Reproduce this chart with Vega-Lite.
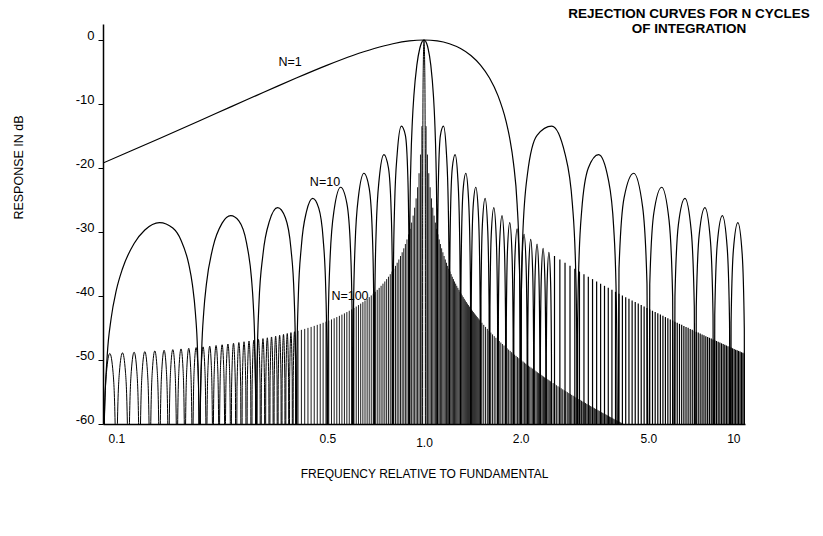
{
"$schema":"https://vega.github.io/schema/vega-lite/v6.json",
"width":642,"height":400,"autosize":"none",
"padding":{"left":103,"top":24,"right":78,"bottom":112},
"background":"white",
"config":{"view":{"stroke":null},"font":"Liberation Sans"},
"title":{"text":["REJECTION CURVES FOR N CYCLES","OF INTEGRATION"],"anchor":"end","frame":"group","align":"center","dx":-56,"dy":30,"baseline":"top","offset":19,"fontSize":13.5,"fontWeight":"bold","font":"Liberation Sans","lineHeight":15,"color":"black"},
"datasets":{
"n1":[{"f":0.1,"d":-19.23},{"f":0.12,"d":-17.51},{"f":0.15,"d":-15.39},{"f":0.2,"d":-12.62},{"f":0.25,"d":-10.45},{"f":0.3,"d":-8.69},{"f":0.35,"d":-7.2},{"f":0.4,"d":-5.94},{"f":0.5,"d":-3.92},{"f":0.6,"d":-2.42},{"f":0.7,"d":-1.33},{"f":0.8,"d":-0.58},{"f":0.9,"d":-0.14},{"f":1,"d":0},{"f":1.1,"d":-0.14},{"f":1.2,"d":-0.58},{"f":1.3,"d":-1.33},{"f":1.4,"d":-2.42},{"f":1.5,"d":-3.92},{"f":1.6,"d":-5.94},{"f":1.7,"d":-8.69},{"f":1.8,"d":-12.62},{"f":1.85,"d":-15.39},{"f":1.9,"d":-19.23},{"f":1.95,"d":-25.61},{"f":1.98,"d":-33.81},{"f":1.99,"d":-39.91},{"f":2,"d":-100},
{"f":2.01,"d":-40.09},{"f":2.03,"d":-30.73},{"f":2.1,"d":-20.97},{"f":2.25,"d":-14.89},{"f":2.5,"d":-13.47},{"f":2.75,"d":-17.81},{"f":2.9,"d":-25.72},{"f":2.97,"d":-36.36},{"f":2.99,"d":-45.98},{"f":3,"d":-100},
{"f":3.01,"d":-46.07},{"f":3.03,"d":-36.62},{"f":3.1,"d":-26.59},{"f":3.25,"d":-20},{"f":3.5,"d":-17.9},{"f":3.75,"d":-21.74},{"f":3.9,"d":-29.39},{"f":3.97,"d":-39.93},{"f":3.99,"d":-49.52},{"f":4,"d":-100},
{"f":4.05,"d":-35.74},{"f":4.2,"d":-24.67},{"f":4.5,"d":-20.82},{"f":4.8,"d":-26.16},{"f":4.95,"d":-37.99},{"f":5,"d":-100},
{"f":5.05,"d":-38.2},{"f":5.2,"d":-27.03},{"f":5.5,"d":-23.01},{"f":5.8,"d":-28.19},{"f":5.95,"d":-39.94},{"f":6,"d":-100},
{"f":6.05,"d":-40.12},{"f":6.2,"d":-28.88},{"f":6.5,"d":-24.75},{"f":6.8,"d":-29.83},{"f":6.95,"d":-41.54},{"f":7,"d":-100},
{"f":7.05,"d":-41.69},{"f":7.2,"d":-30.41},{"f":7.5,"d":-26.2},{"f":7.8,"d":-31.21},{"f":7.95,"d":-42.89},{"f":8,"d":-100},
{"f":8.05,"d":-43.02},{"f":8.2,"d":-31.71},{"f":8.5,"d":-27.44},{"f":8.8,"d":-32.41},{"f":8.95,"d":-44.06},{"f":9,"d":-100},
{"f":9.05,"d":-44.17},{"f":9.2,"d":-32.84},{"f":9.5,"d":-28.53},{"f":9.8,"d":-33.45},{"f":9.95,"d":-45.09},{"f":10,"d":-100}],
"n10":[{"f":0.1,"d":-100},{"f":0.101,"d":-59.08},{"f":0.103,"d":-49.53},{"f":0.106,"d":-43.52},{"f":0.11,"d":-39.13},{"f":0.115,"d":-35.74},{"f":0.125,"d":-31.79},{"f":0.135,"d":-29.68},{"f":0.15,"d":-28.53},{"f":0.165,"d":-29.38},{"f":0.175,"d":-31.28},{"f":0.185,"d":-35.03},{"f":0.19,"d":-38.31},{"f":0.194,"d":-42.62},{"f":0.197,"d":-48.57},{"f":0.199,"d":-58.08},{"f":0.2,"d":-100},
{"f":0.201,"d":-58.05},{"f":0.203,"d":-48.5},{"f":0.206,"d":-42.49},{"f":0.21,"d":-38.1},{"f":0.22,"d":-32.41},{"f":0.235,"d":-28.62},{"f":0.25,"d":-27.44},{"f":0.265,"d":-28.27},{"f":0.28,"d":-31.71},{"f":0.29,"d":-37.17},{"f":0.294,"d":-41.47},{"f":0.297,"d":-47.41},{"f":0.299,"d":-56.92},{"f":0.3,"d":-100},
{"f":0.302,"d":-50.86},{"f":0.306,"d":-41.32},{"f":0.315,"d":-33.52},{"f":0.33,"d":-28.31},{"f":0.35,"d":-26.2},{"f":0.37,"d":-27.77},{"f":0.385,"d":-32.58},{"f":0.394,"d":-40.14},{"f":0.398,"d":-49.58},{"f":0.4,"d":-100},
{"f":0.402,"d":-49.52},{"f":0.406,"d":-39.97},{"f":0.415,"d":-32.15},{"f":0.43,"d":-26.9},{"f":0.45,"d":-24.75},{"f":0.47,"d":-26.27},{"f":0.485,"d":-31.04},{"f":0.494,"d":-38.58},{"f":0.498,"d":-48},{"f":0.5,"d":-100},
{"f":0.503,"d":-44.4},{"f":0.51,"d":-33.95},{"f":0.525,"d":-26.49},{"f":0.55,"d":-23.01},{"f":0.575,"d":-25.52},{"f":0.59,"d":-32.4},{"f":0.597,"d":-42.58},{"f":0.6,"d":-100},
{"f":0.603,"d":-42.45},{"f":0.61,"d":-31.96},{"f":0.625,"d":-24.43},{"f":0.65,"d":-20.82},{"f":0.675,"d":-23.19},{"f":0.69,"d":-29.97},{"f":0.697,"d":-40.1},{"f":0.7,"d":-100},
{"f":0.703,"d":-39.93},{"f":0.71,"d":-29.39},{"f":0.725,"d":-21.74},{"f":0.75,"d":-17.9},{"f":0.775,"d":-20},{"f":0.79,"d":-26.59},{"f":0.797,"d":-36.62},{"f":0.8,"d":-100},
{"f":0.803,"d":-36.36},{"f":0.81,"d":-25.72},{"f":0.825,"d":-17.81},{"f":0.85,"d":-13.47},{"f":0.875,"d":-14.89},{"f":0.89,"d":-20.97},{"f":0.897,"d":-30.73},{"f":0.9,"d":-100},
{"f":0.901,"d":-39.91},{"f":0.905,"d":-25.61},{"f":0.91,"d":-19.23},{"f":0.92,"d":-12.62},{"f":0.93,"d":-8.69},{"f":0.95,"d":-3.92},{"f":0.97,"d":-1.33},{"f":0.98,"d":-0.58},{"f":1,"d":0},{"f":1.02,"d":-0.58},{"f":1.03,"d":-1.33},{"f":1.05,"d":-3.92},{"f":1.07,"d":-8.69},{"f":1.08,"d":-12.62},{"f":1.09,"d":-19.23},{"f":1.095,"d":-25.61},{"f":1.099,"d":-39.91},{"f":1.1,"d":-100},
{"f":1.103,"d":-30.73},{"f":1.11,"d":-20.97},{"f":1.125,"d":-14.89},{"f":1.15,"d":-13.47},{"f":1.175,"d":-17.81},{"f":1.19,"d":-25.72},{"f":1.197,"d":-36.36},{"f":1.2,"d":-100},
{"f":1.203,"d":-36.62},{"f":1.21,"d":-26.59},{"f":1.225,"d":-20},{"f":1.25,"d":-17.9},{"f":1.275,"d":-21.74},{"f":1.29,"d":-29.39},{"f":1.297,"d":-39.93},{"f":1.3,"d":-100},
{"f":1.303,"d":-40.1},{"f":1.31,"d":-29.97},{"f":1.325,"d":-23.19},{"f":1.35,"d":-20.82},{"f":1.375,"d":-24.43},{"f":1.39,"d":-31.96},{"f":1.397,"d":-42.45},{"f":1.4,"d":-100},
{"f":1.403,"d":-42.58},{"f":1.41,"d":-32.4},{"f":1.425,"d":-25.52},{"f":1.45,"d":-23.01},{"f":1.475,"d":-26.49},{"f":1.49,"d":-33.95},{"f":1.497,"d":-44.4},{"f":1.5,"d":-100},
{"f":1.505,"d":-40.15},{"f":1.52,"d":-28.88},{"f":1.55,"d":-24.75},{"f":1.58,"d":-29.83},{"f":1.595,"d":-41.57},{"f":1.6,"d":-100},
{"f":1.605,"d":-41.71},{"f":1.62,"d":-30.41},{"f":1.65,"d":-26.2},{"f":1.68,"d":-31.21},{"f":1.695,"d":-42.91},{"f":1.7,"d":-100},
{"f":1.705,"d":-43.03},{"f":1.72,"d":-31.71},{"f":1.75,"d":-27.44},{"f":1.78,"d":-32.41},{"f":1.795,"d":-44.07},{"f":1.8,"d":-100},
{"f":1.805,"d":-44.18},{"f":1.82,"d":-32.84},{"f":1.85,"d":-28.53},{"f":1.88,"d":-33.45},{"f":1.895,"d":-45.1},{"f":1.9,"d":-100},
{"f":1.905,"d":-45.2},{"f":1.92,"d":-33.84},{"f":1.95,"d":-29.5},{"f":1.98,"d":-34.39},{"f":1.995,"d":-46.02},{"f":2,"d":-100},
{"f":2.005,"d":-46.11},{"f":2.02,"d":-34.74},{"f":2.05,"d":-30.37},{"f":2.08,"d":-35.23},{"f":2.095,"d":-46.85},{"f":2.1,"d":-100},
{"f":2.105,"d":-46.93},{"f":2.12,"d":-35.55},{"f":2.15,"d":-31.16},{"f":2.18,"d":-36},{"f":2.195,"d":-47.61},{"f":2.2,"d":-100},
{"f":2.205,"d":-47.68},{"f":2.22,"d":-36.29},{"f":2.25,"d":-31.88},{"f":2.28,"d":-36.71},{"f":2.295,"d":-48.3},{"f":2.3,"d":-100},
{"f":2.305,"d":-48.37},{"f":2.32,"d":-36.97},{"f":2.35,"d":-32.55},{"f":2.38,"d":-37.36},{"f":2.395,"d":-48.95},{"f":2.4,"d":-100},
{"f":2.405,"d":-49.01},{"f":2.42,"d":-37.61},{"f":2.45,"d":-33.17},{"f":2.48,"d":-37.97},{"f":2.495,"d":-49.55},{"f":2.5,"d":-100}],
"n100l":[{"f":0.1,"d":-100},{"f":0.1008,"d":-61.07},{"f":0.1025,"d":-51.99},{"f":0.105,"d":-48.98},{"f":0.1075,"d":-51.99},{"f":0.1092,"d":-61.07},{"f":0.11,"d":-100},
{"f":0.1108,"d":-60.97},{"f":0.1125,"d":-51.89},{"f":0.115,"d":-48.88},{"f":0.1175,"d":-51.89},{"f":0.1192,"d":-60.97},{"f":0.12,"d":-100},
{"f":0.1208,"d":-60.87},{"f":0.1225,"d":-51.79},{"f":0.125,"d":-48.78},{"f":0.1275,"d":-51.79},{"f":0.1292,"d":-60.87},{"f":0.13,"d":-100},
{"f":0.1308,"d":-60.77},{"f":0.1325,"d":-51.69},{"f":0.135,"d":-48.68},{"f":0.1375,"d":-51.69},{"f":0.1392,"d":-60.77},{"f":0.14,"d":-100},
{"f":0.1408,"d":-60.67},{"f":0.1425,"d":-51.59},{"f":0.145,"d":-48.58},{"f":0.1475,"d":-51.59},{"f":0.1492,"d":-60.67},{"f":0.15,"d":-100},
{"f":0.1508,"d":-60.57},{"f":0.1525,"d":-51.49},{"f":0.155,"d":-48.48},{"f":0.1575,"d":-51.49},{"f":0.1592,"d":-60.57},{"f":0.16,"d":-100},
{"f":0.1608,"d":-60.47},{"f":0.1625,"d":-51.39},{"f":0.165,"d":-48.38},{"f":0.1675,"d":-51.39},{"f":0.1692,"d":-60.47},{"f":0.17,"d":-100},
{"f":0.1708,"d":-60.36},{"f":0.1725,"d":-51.28},{"f":0.175,"d":-48.27},{"f":0.1775,"d":-51.28},{"f":0.1792,"d":-60.36},{"f":0.18,"d":-100},
{"f":0.1808,"d":-60.26},{"f":0.1825,"d":-51.18},{"f":0.185,"d":-48.17},{"f":0.1875,"d":-51.18},{"f":0.1892,"d":-60.26},{"f":0.19,"d":-100},
{"f":0.1908,"d":-60.15},{"f":0.1925,"d":-51.07},{"f":0.195,"d":-48.06},{"f":0.1975,"d":-51.07},{"f":0.1992,"d":-60.15},{"f":0.2,"d":-100},
{"f":0.2008,"d":-60.04},{"f":0.2025,"d":-50.96},{"f":0.205,"d":-47.95},{"f":0.2075,"d":-50.96},{"f":0.2092,"d":-60.04},{"f":0.21,"d":-100},
{"f":0.2108,"d":-59.93},{"f":0.2125,"d":-50.85},{"f":0.215,"d":-47.84},{"f":0.2175,"d":-50.85},{"f":0.2192,"d":-59.93},{"f":0.22,"d":-100},
{"f":0.2208,"d":-59.82},{"f":0.2225,"d":-50.74},{"f":0.225,"d":-47.73},{"f":0.2275,"d":-50.74},{"f":0.2292,"d":-59.82},{"f":0.23,"d":-100},
{"f":0.2308,"d":-59.71},{"f":0.2325,"d":-50.63},{"f":0.235,"d":-47.62},{"f":0.2375,"d":-50.63},{"f":0.2392,"d":-59.71},{"f":0.24,"d":-100},
{"f":0.2408,"d":-59.59},{"f":0.2425,"d":-50.51},{"f":0.245,"d":-47.5},{"f":0.2475,"d":-50.51},{"f":0.2492,"d":-59.59},{"f":0.25,"d":-100},
{"f":0.2515,"d":-54.25},{"f":0.255,"d":-47.39},{"f":0.2585,"d":-54.25},{"f":0.26,"d":-100},
{"f":0.2615,"d":-54.13},{"f":0.265,"d":-47.27},{"f":0.2685,"d":-54.13},{"f":0.27,"d":-100},
{"f":0.2715,"d":-54.01},{"f":0.275,"d":-47.15},{"f":0.2785,"d":-54.01},{"f":0.28,"d":-100},
{"f":0.2815,"d":-53.89},{"f":0.285,"d":-47.03},{"f":0.2885,"d":-53.89},{"f":0.29,"d":-100},
{"f":0.2915,"d":-53.77},{"f":0.295,"d":-46.91},{"f":0.2985,"d":-53.77},{"f":0.3,"d":-100},
{"f":0.3015,"d":-53.64},{"f":0.305,"d":-46.78},{"f":0.3085,"d":-53.64},{"f":0.31,"d":-100},
{"f":0.3115,"d":-53.52},{"f":0.315,"d":-46.66},{"f":0.3185,"d":-53.52},{"f":0.32,"d":-100},
{"f":0.3215,"d":-53.39},{"f":0.325,"d":-46.53},{"f":0.3285,"d":-53.39},{"f":0.33,"d":-100},
{"f":0.3315,"d":-53.26},{"f":0.335,"d":-46.4},{"f":0.3385,"d":-53.26},{"f":0.34,"d":-100},
{"f":0.3415,"d":-53.13},{"f":0.345,"d":-46.27},{"f":0.3485,"d":-53.13},{"f":0.35,"d":-100},
{"f":0.3515,"d":-52.99},{"f":0.355,"d":-46.13},{"f":0.3585,"d":-52.99},{"f":0.36,"d":-100},
{"f":0.3615,"d":-52.86},{"f":0.365,"d":-46},{"f":0.3685,"d":-52.86},{"f":0.37,"d":-100},
{"f":0.3715,"d":-52.72},{"f":0.375,"d":-45.86},{"f":0.3785,"d":-52.72},{"f":0.38,"d":-100},
{"f":0.3815,"d":-52.58},{"f":0.385,"d":-45.72},{"f":0.3885,"d":-52.58},{"f":0.39,"d":-100},
{"f":0.3915,"d":-52.44},{"f":0.395,"d":-45.58},{"f":0.3985,"d":-52.44},{"f":0.4,"d":-100}],
"n100m":[{"f":0.99,"d":-100},{"f":0.9905,"d":-25.61},{"f":0.992,"d":-12.62},{"f":0.995,"d":-3.92},{"f":1,"d":0},{"f":1.005,"d":-3.92},{"f":1.008,"d":-12.62},{"f":1.0095,"d":-25.61},{"f":1.01,"d":-100}],
"r10":[{"f":2.55,"d":-33.75},{"f":2.65,"d":-34.29},{"f":2.75,"d":-34.8},{"f":2.85,"d":-35.29},{"f":2.95,"d":-35.74},{"f":3.05,"d":-36.18},{"f":3.15,"d":-36.59},{"f":3.25,"d":-36.99},{"f":3.35,"d":-37.36},{"f":3.45,"d":-37.73},{"f":3.55,"d":-38.07},{"f":3.65,"d":-38.41},{"f":3.75,"d":-38.73},{"f":3.85,"d":-39.04},{"f":3.95,"d":-39.34},{"f":4.05,"d":-39.63},{"f":4.15,"d":-39.91},{"f":4.25,"d":-40.18},{"f":4.35,"d":-40.44},{"f":4.45,"d":-40.7},{"f":4.55,"d":-40.95},{"f":4.65,"d":-41.19},{"f":4.75,"d":-41.42},{"f":4.85,"d":-41.65},{"f":4.95,"d":-41.87},{"f":5.05,"d":-42.09},{"f":5.15,"d":-42.3},{"f":5.25,"d":-42.51},{"f":5.35,"d":-42.71},{"f":5.45,"d":-42.91},{"f":5.55,"d":-43.1},{"f":5.65,"d":-43.29},{"f":5.75,"d":-43.48},{"f":5.85,"d":-43.66},{"f":5.95,"d":-43.84},{"f":6.05,"d":-44.01},{"f":6.15,"d":-44.18},{"f":6.25,"d":-44.35},{"f":6.35,"d":-44.51},{"f":6.45,"d":-44.67},{"f":6.55,"d":-44.83},{"f":6.65,"d":-44.98},{"f":6.75,"d":-45.14},{"f":6.85,"d":-45.29},{"f":6.95,"d":-45.43},{"f":7.05,"d":-45.58},{"f":7.15,"d":-45.72},{"f":7.25,"d":-45.86},{"f":7.35,"d":-46},{"f":7.45,"d":-46.13},{"f":7.55,"d":-46.27},{"f":7.65,"d":-46.4},{"f":7.75,"d":-46.53},{"f":7.85,"d":-46.66},{"f":7.95,"d":-46.78},{"f":8.05,"d":-46.91},{"f":8.15,"d":-47.03},{"f":8.25,"d":-47.15},{"f":8.35,"d":-47.27},{"f":8.45,"d":-47.39},{"f":8.55,"d":-47.5},{"f":8.65,"d":-47.62},{"f":8.75,"d":-47.73},{"f":8.85,"d":-47.84},{"f":8.95,"d":-47.95},{"f":9.05,"d":-48.06},{"f":9.15,"d":-48.17},{"f":9.25,"d":-48.27},{"f":9.35,"d":-48.38},{"f":9.45,"d":-48.48},{"f":9.55,"d":-48.58},{"f":9.65,"d":-48.68},{"f":9.75,"d":-48.78},{"f":9.85,"d":-48.88},{"f":9.95,"d":-48.98}],
"r100":[{"f":0.405,"d":-45.43},{"f":0.415,"d":-45.29},{"f":0.425,"d":-45.14},{"f":0.435,"d":-44.98},{"f":0.445,"d":-44.83},{"f":0.455,"d":-44.67},{"f":0.465,"d":-44.51},{"f":0.475,"d":-44.35},{"f":0.485,"d":-44.18},{"f":0.495,"d":-44.01},{"f":0.505,"d":-43.84},{"f":0.515,"d":-43.66},{"f":0.525,"d":-43.48},{"f":0.535,"d":-43.29},{"f":0.545,"d":-43.1},{"f":0.555,"d":-42.91},{"f":0.565,"d":-42.71},{"f":0.575,"d":-42.51},{"f":0.585,"d":-42.3},{"f":0.595,"d":-42.09},{"f":0.605,"d":-41.87},{"f":0.615,"d":-41.65},{"f":0.625,"d":-41.42},{"f":0.635,"d":-41.19},{"f":0.645,"d":-40.95},{"f":0.655,"d":-40.7},{"f":0.665,"d":-40.44},{"f":0.675,"d":-40.18},{"f":0.685,"d":-39.91},{"f":0.695,"d":-39.63},{"f":0.705,"d":-39.34},{"f":0.715,"d":-39.04},{"f":0.725,"d":-38.73},{"f":0.735,"d":-38.41},{"f":0.745,"d":-38.07},{"f":0.755,"d":-37.73},{"f":0.765,"d":-37.36},{"f":0.775,"d":-36.99},{"f":0.785,"d":-36.59},{"f":0.795,"d":-36.18},{"f":0.805,"d":-35.74},{"f":0.815,"d":-35.29},{"f":0.825,"d":-34.8},{"f":0.835,"d":-34.29},{"f":0.845,"d":-33.75},{"f":0.855,"d":-33.17},{"f":0.865,"d":-32.55},{"f":0.875,"d":-31.88},{"f":0.885,"d":-31.16},{"f":0.895,"d":-30.37},{"f":0.905,"d":-29.5},{"f":0.915,"d":-28.53},{"f":0.925,"d":-27.44},{"f":0.935,"d":-26.2},{"f":0.945,"d":-24.75},{"f":0.955,"d":-23.01},{"f":0.965,"d":-20.82},{"f":0.975,"d":-17.9},{"f":0.985,"d":-13.47},
{"f":1.015,"d":-13.47},{"f":1.025,"d":-17.9},{"f":1.035,"d":-20.82},{"f":1.045,"d":-23.01},{"f":1.055,"d":-24.75},{"f":1.065,"d":-26.2},{"f":1.075,"d":-27.44},{"f":1.085,"d":-28.53},{"f":1.095,"d":-29.5},{"f":1.105,"d":-30.37},{"f":1.115,"d":-31.16},{"f":1.125,"d":-31.88},{"f":1.135,"d":-32.55},{"f":1.145,"d":-33.17},{"f":1.155,"d":-33.75},{"f":1.165,"d":-34.29},{"f":1.175,"d":-34.8},{"f":1.185,"d":-35.29},{"f":1.195,"d":-35.74},{"f":1.205,"d":-36.18},{"f":1.215,"d":-36.59},{"f":1.225,"d":-36.99},{"f":1.235,"d":-37.36},{"f":1.245,"d":-37.73},{"f":1.255,"d":-38.07},{"f":1.265,"d":-38.41},{"f":1.275,"d":-38.73},{"f":1.285,"d":-39.04},{"f":1.295,"d":-39.34},{"f":1.305,"d":-39.63},{"f":1.315,"d":-39.91},{"f":1.325,"d":-40.18},{"f":1.335,"d":-40.44},{"f":1.345,"d":-40.7},{"f":1.355,"d":-40.95},{"f":1.365,"d":-41.19},{"f":1.375,"d":-41.42},{"f":1.385,"d":-41.65},{"f":1.395,"d":-41.87},{"f":1.405,"d":-42.09},{"f":1.415,"d":-42.3},{"f":1.425,"d":-42.51},{"f":1.435,"d":-42.71},{"f":1.445,"d":-42.91},{"f":1.455,"d":-43.1},{"f":1.465,"d":-43.29},{"f":1.475,"d":-43.48},{"f":1.485,"d":-43.66},{"f":1.495,"d":-43.84},
{"f":1.515,"d":-44.18},{"f":1.535,"d":-44.51},{"f":1.555,"d":-44.83},{"f":1.575,"d":-45.14},{"f":1.595,"d":-45.43},{"f":1.615,"d":-45.72},{"f":1.635,"d":-46},{"f":1.655,"d":-46.27},{"f":1.675,"d":-46.53},{"f":1.695,"d":-46.78},{"f":1.715,"d":-47.03},{"f":1.735,"d":-47.27},{"f":1.755,"d":-47.5},{"f":1.775,"d":-47.73},{"f":1.795,"d":-47.95},{"f":1.815,"d":-48.17},{"f":1.835,"d":-48.38},{"f":1.855,"d":-48.58},{"f":1.875,"d":-48.78},{"f":1.895,"d":-48.98},{"f":1.915,"d":-49.17},{"f":1.935,"d":-49.36},{"f":1.955,"d":-49.54},{"f":1.975,"d":-49.72},{"f":1.995,"d":-49.9},
{"f":2.015,"d":-50.07},{"f":2.035,"d":-50.24},{"f":2.055,"d":-50.41},{"f":2.075,"d":-50.57},{"f":2.095,"d":-50.73},{"f":2.115,"d":-50.89},{"f":2.135,"d":-51.04},{"f":2.155,"d":-51.19},{"f":2.175,"d":-51.34},{"f":2.195,"d":-51.49},{"f":2.215,"d":-51.63},{"f":2.235,"d":-51.78},{"f":2.255,"d":-51.92},{"f":2.275,"d":-52.05},{"f":2.295,"d":-52.19},{"f":2.315,"d":-52.32},{"f":2.335,"d":-52.45},{"f":2.355,"d":-52.58},{"f":2.375,"d":-52.71},{"f":2.395,"d":-52.83},{"f":2.415,"d":-52.96},{"f":2.435,"d":-53.08},{"f":2.455,"d":-53.2},{"f":2.475,"d":-53.32},{"f":2.495,"d":-53.44},
{"f":2.525,"d":-53.61},{"f":2.555,"d":-53.78},{"f":2.585,"d":-53.94},{"f":2.615,"d":-54.11},{"f":2.645,"d":-54.27},{"f":2.675,"d":-54.42},{"f":2.705,"d":-54.58},{"f":2.735,"d":-54.73},{"f":2.765,"d":-54.88},{"f":2.795,"d":-55.02},{"f":2.825,"d":-55.17},{"f":2.855,"d":-55.31},{"f":2.885,"d":-55.45},{"f":2.915,"d":-55.59},{"f":2.945,"d":-55.72},{"f":2.975,"d":-55.85},{"f":3.005,"d":-55.99},{"f":3.035,"d":-56.11},{"f":3.065,"d":-56.24},{"f":3.095,"d":-56.37},{"f":3.125,"d":-56.49},{"f":3.155,"d":-56.61},{"f":3.185,"d":-56.73},{"f":3.215,"d":-56.85},{"f":3.245,"d":-56.97},{"f":3.275,"d":-57.08},{"f":3.305,"d":-57.2},{"f":3.335,"d":-57.31},{"f":3.365,"d":-57.42},{"f":3.395,"d":-57.53},{"f":3.425,"d":-57.64},{"f":3.455,"d":-57.74},{"f":3.485,"d":-57.85},{"f":3.515,"d":-57.95},{"f":3.545,"d":-58.06},{"f":3.575,"d":-58.16},{"f":3.605,"d":-58.26},{"f":3.635,"d":-58.36},{"f":3.665,"d":-58.46},{"f":3.695,"d":-58.55},{"f":3.725,"d":-58.65},{"f":3.755,"d":-58.75},{"f":3.785,"d":-58.84},{"f":3.815,"d":-58.93},{"f":3.845,"d":-59.02},{"f":3.875,"d":-59.12},{"f":3.905,"d":-59.21},{"f":3.935,"d":-59.3},{"f":3.965,"d":-59.38},{"f":3.995,"d":-59.47},{"f":4.025,"d":-59.56},{"f":4.055,"d":-59.64},{"f":4.085,"d":-59.73},{"f":4.115,"d":-59.81},{"f":4.145,"d":-59.9},{"f":4.175,"d":-59.98}],
"lab":[{"t":"N=1","f":0.3825,"d":-3.4},{"t":"N=10","f":0.4915,"d":-22.2},{"t":"N=100","f":0.588,"d":-40}]
},
"encoding":{
"x":{"field":"f","type":"quantitative","scale":{"type":"log","domain":[0.1,10],"nice":false},
"axis":{"values":[0.1,0.5,1,2,5,10],"labelExpr":"datum.value == 10 ? '10' : format(datum.value, '.1f')","labelFlush":true,"labelFlushOffset":-5,"labelOverlap":false,"ticks":false,"grid":false,"domainColor":"black","domainWidth":1.5,"labelColor":"black","labelFontSize":12,"labelFont":"Liberation Sans","labelPadding":{"condition":{"test":"datum.value == 1","value":13},"value":9},"title":"FREQUENCY RELATIVE TO FUNDAMENTAL","titleFontSize":12,"titleFontWeight":"normal","titleColor":"black","titleFont":"Liberation Sans","titleY":49,"titleBaseline":"middle"}},
"y":{"field":"d","type":"quantitative","scale":{"domain":[-60,2.5],"nice":false,"zero":false},
"axis":{"values":[0,-10,-20,-30,-40,-50,-60],"labelExpr":"'' + datum.value","tickSize":5,"tickColor":"black","tickWidth":1,"grid":false,"domainColor":"black","domainWidth":1.5,"labelColor":"black","labelFontSize":13,"labelFont":"Liberation Sans","labelPadding":4,"labelOffset":-5,"title":"RESPONSE IN dB","titleFontSize":12.5,"titleFontWeight":"normal","titleColor":"black","titleFont":"Liberation Sans","titleX":-85,"titleY":143,"titleAngle":270,"titleAlign":"center","titleBaseline":"middle"}}
},
"layer":[
{"data":{"name":"n1"},"mark":{"type":"line","interpolate":"monotone","clip":true,"color":"black","strokeWidth":1.2}},
{"data":{"name":"n10"},"mark":{"type":"line","interpolate":"monotone","clip":true,"color":"black","strokeWidth":1.2}},
{"data":{"name":"n100l"},"mark":{"type":"line","interpolate":"monotone","clip":true,"color":"black","strokeWidth":1}},
{"data":{"name":"n100m"},"mark":{"type":"line","interpolate":"monotone","clip":true,"color":"black","strokeWidth":1}},
{"data":{"name":"r10"},"mark":{"type":"rule","clip":true,"color":"black","strokeWidth":1.2},"encoding":{"y2":{"datum":-60}}},
{"data":{"name":"r100"},"mark":{"type":"rule","clip":true,"color":"black","strokeWidth":0.9},"encoding":{"y2":{"datum":-60}}},
{"data":{"name":"lab"},"mark":{"type":"text","font":"Liberation Sans","fontSize":12.5,"color":"black","align":"center","baseline":"middle"},"encoding":{"text":{"field":"t"}}}
]
}
